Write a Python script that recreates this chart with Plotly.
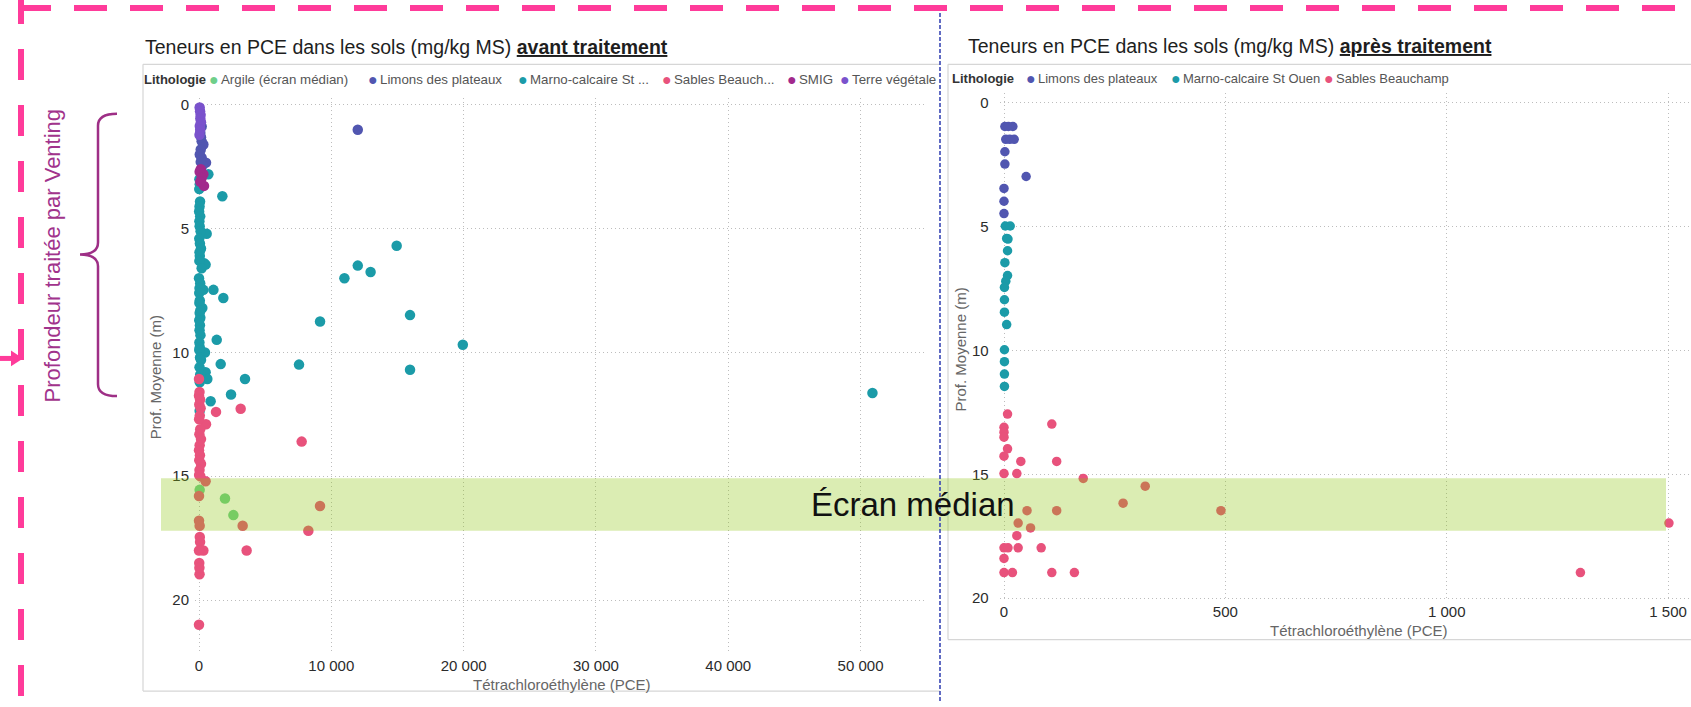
import plotly.graph_objects as go

W, H = 1691, 707

# ---------- Teneurs en PCE (mg/kg MS) avant traitement ----------
avant_argile_pce = [50, 1965, 2600]
avant_argile_prof = [15.55, 15.9, 16.57]

avant_limons_pce = [12000, 200, 100, 200, 330, 130, 200, 530, 130, 280, 150, 60]
avant_limons_prof = [1.0, 0.87, 1.13, 1.47, 1.6, 1.8, 2.13, 2.33, 2.3, 2.44, 1.3, 2.0]

avant_marno_pce = [706, 1764, 580, 14940, 12000, 12970, 10990, 400, 500, 0,
                   330, 1090, 1840, 250, 15950, 9150, 100, 1340, 19940, 450,
                   7560, 1640, 15950, 500, 630, 3477, 2420, 50900, 880, 50,
                   30, 60, 20, 80, 40, 10, 90, 30, 50, 120,
                   20, 70, 150, 40, 60, 30, 200, 90, 40, 20,
                   60, 30, 100, 50, 20, 70, 40, 110, 30, 60,
                   20, 80, 150, 40, 90, 60]
avant_marno_prof = [2.8, 3.69, 5.2, 5.69, 6.49, 6.75, 7.0, 6.4, 6.45, 7.0,
                    7.47, 7.47, 7.8, 8.2, 8.49, 8.75, 8.6, 9.49, 9.69, 10.0,
                    10.49, 10.47, 10.7, 10.8, 11.07, 11.07, 11.7, 11.64, 11.97, 12.35,
                    3.0, 3.2, 3.4, 3.9, 4.1, 4.3, 4.5, 4.7, 4.9, 5.1,
                    5.4, 5.6, 5.8, 5.95, 6.1, 6.3, 6.6, 7.2, 7.4, 7.6,
                    7.9, 8.0, 8.3, 8.4, 8.7, 8.9, 9.1, 9.3, 9.6, 9.8,
                    9.9, 10.2, 10.3, 10.6, 10.9, 11.2]

avant_sables_pce = [0, 1285, 3150, 530, 7760, 500, 0, 9145, 3300, 8265,
                    0, 50, 60, 80, 330, 3600, 0, 20, 40, 0,
                    30, 100,
                    40, 0, 80, 20, 120, 60, 10, 90, 30, 150,
                    50, 0, 70, 20, 150, 40, 10]
avant_sables_prof = [11.07, 12.4, 12.27, 12.9, 13.6, 15.2, 15.8, 16.2, 17.0, 17.2,
                     16.8, 17.0, 17.45, 17.66, 18.0, 18.0, 18.0, 18.5, 18.96, 21.0,
                     18.7, 15.0,
                     11.6, 11.75, 11.9, 12.1, 12.25, 12.55, 12.7, 13.1, 13.3, 13.5,
                     13.75, 13.95, 14.15, 14.35, 14.5, 14.75, 14.95]

avant_smig_pce = [130, 330, 380, 50, 200, 100]
avant_smig_prof = [2.6, 2.8, 3.27, 2.7, 2.95, 3.1]

avant_terre_pce = [50, 80, 120, 100, 150, 60, 90, 40]
avant_terre_prof = [0.1, 0.25, 0.4, 0.55, 0.7, 0.85, 1.0, 1.2]

# ---------- Teneurs en PCE (mg/kg MS) après traitement ----------
apres_limons_pce = [2, 10, 20, 4, 13, 23, 2, 2, 50, 0, 0, 0]
apres_limons_prof = [0.95, 0.95, 0.95, 1.47, 1.47, 1.47, 1.97, 2.47, 2.97, 3.45, 3.97, 4.47]

apres_marno_pce = [3, 14, 6, 9, 8, 2, 8, 4, 1, 1, 1, 6, 1, 1, 1, 1]
apres_marno_prof = [4.97, 4.97, 5.47, 5.5, 5.97, 6.45, 6.97, 7.2, 7.45, 7.95,
                    8.45, 8.95, 9.97, 10.45, 10.95, 11.45]

apres_sables_pce = [8, 108, 0, 0, 0, 8, 0, 38, 119, 0,
                    29, 179, 319, 269, 490, 52, 119, 32, 1502, 60,
                    29, 0, 9, 32, 84, 0, 0, 19, 108, 159,
                    1302]
apres_sables_prof = [12.57, 12.97, 13.1, 13.3, 13.5, 13.97, 14.27, 14.48, 14.48, 14.97,
                     14.97, 15.17, 15.48, 16.17, 16.47, 16.47, 16.47, 16.97, 16.97, 17.17,
                     17.48, 17.97, 17.97, 17.97, 17.97, 18.4, 18.97, 18.97, 18.97, 18.97,
                     18.97]

# Axis ticks
avant_xticks = [0, 10000, 20000, 30000, 40000, 50000]
avant_xtext = ["0", "10 000", "20 000", "30 000", "40 000", "50 000"]
apres_xticks = [0, 500, 1000, 1500]
apres_xtext = ["0", "500", "1 000", "1 500"]
prof_ticks = [0, 5, 10, 15, 20]
prof_text = ["0", "5", "10", "15", "20"]

# Lithology colours
C_ARGILE = "#6FCF8A"
C_LIMONS = "#5156B0"
C_MARNO = "#1B9BA8"
C_SABLES = "#E8527C"
C_SMIG = "#A2298C"
C_TERRE = "#7A52CC"

PINK = "#FF3B9A"
PURPLE = "#A1338C"
NARROW = "Liberation Sans Narrow, Arial Narrow, Liberation Sans, Arial, sans-serif"
ARIAL = "Liberation Sans, Arial, sans-serif"

# Pixel scales of the two panels (px per unit)
AV_KX, AV_KY = 727.7 / 55000, 25.0
AP_KX, AP_KY = 687.0 / 1551.8, 25.0


def px(x):
    return x / W


def py(y):
    return 1 - y / H


fig = go.Figure()


def add_points(xs, ys, color, name, xa, ya, size):
    fig.add_trace(go.Scatter(
        x=xs, y=ys, mode="markers", name=name, xaxis=xa, yaxis=ya,
        cliponaxis=False, showlegend=False,
        marker=dict(color=color, size=size, line=dict(width=0)),
    ))


add_points(avant_argile_pce, avant_argile_prof, C_ARGILE, "Argile (écran médian)", "x", "y", 10.5)
add_points(avant_limons_pce, avant_limons_prof, C_LIMONS, "Limons des plateaux", "x", "y", 10.5)
add_points(avant_marno_pce, avant_marno_prof, C_MARNO, "Marno-calcaire St Ouen", "x", "y", 10.5)
add_points(avant_sables_pce, avant_sables_prof, C_SABLES, "Sables Beauchamp", "x", "y", 10.5)
add_points(avant_smig_pce, avant_smig_prof, C_SMIG, "SMIG", "x", "y", 10.5)
add_points(avant_terre_pce, avant_terre_prof, C_TERRE, "Terre végétale", "x", "y", 10.5)

add_points(apres_limons_pce, apres_limons_prof, C_LIMONS, "Limons des plateaux", "x2", "y2", 9.5)
add_points(apres_marno_pce, apres_marno_prof, C_MARNO, "Marno-calcaire St Ouen", "x2", "y2", 9.5)
add_points(apres_sables_pce, apres_sables_prof, C_SABLES, "Sables Beauchamp", "x2", "y2", 9.5)

grid = dict(showgrid=True, gridcolor="#BDBDBD", griddash="1px,3px", gridwidth=1.3,
            zeroline=False, showline=False, ticks="",
            tickfont=dict(family=NARROW, size=15, color="#2B2B2B"))

# Axis ranges padded slightly beyond zero so the zero gridlines and labels are kept
av_x0, ap_x0 = -300, -10
av_y0, ap_y0 = -0.3, -0.4

fig.update_layout(
    width=W, height=H, margin=dict(l=0, r=0, t=0, b=0),
    paper_bgcolor="white", plot_bgcolor="rgba(0,0,0,0)", showlegend=False,
    xaxis=dict(domain=[px(199 + av_x0 * AV_KX), px(926.7)], range=[av_x0, 55000], anchor="y",
               tickvals=avant_xticks, ticktext=avant_xtext, ticklabelstandoff=1, **grid),
    yaxis=dict(domain=[py(660), py(105 + av_y0 * AV_KY)], range=[22.2, av_y0], anchor="x",
               tickvals=prof_ticks, ticktext=prof_text, ticklabelstandoff=5, **grid),
    xaxis2=dict(domain=[px(1004 + ap_x0 * AP_KX), 1], range=[ap_x0, 1551.8], anchor="y2",
                tickvals=apres_xticks, ticktext=apres_xtext, ticklabelstandoff=1, **grid),
    yaxis2=dict(domain=[py(605), py(103 + ap_y0 * AP_KY)], range=[20.08, ap_y0], anchor="x2",
                tickvals=prof_ticks, ticktext=prof_text, ticklabelstandoff=10, **grid),
)

shapes = []


def seg(x0, y0, x1, y1, color, width, dash=None, layer="above"):
    line = dict(color=color, width=width)
    if dash:
        line["dash"] = dash
    shapes.append(dict(type="line", xref="paper", yref="paper",
                       x0=px(x0), y0=py(y0), x1=px(x1), y1=py(y1),
                       line=line, layer=layer))


def path(cmds, color, width=0, fill=None, layer="above"):
    parts = []
    for c in cmds:
        op = c[0]
        nums = c[1:]
        pts = []
        for i in range(0, len(nums), 2):
            pts.append(f"{px(nums[i]):.6f},{py(nums[i + 1]):.6f}")
        parts.append(op + " " + " ".join(pts))
    d = " ".join(parts)
    if fill:
        d += " Z"
    shp = dict(type="path", xref="paper", yref="paper", path=d, layer=layer,
               line=dict(color=color, width=width))
    if fill:
        shp["fillcolor"] = fill
    shapes.append(shp)


# Visual panel borders
seg(143, 64, 940, 64, "#D6D6D6", 1.2, layer="below")
seg(143, 64, 143, 697, "#D6D6D6", 1.2, layer="below")
seg(143, 697, 940, 697, "#D6D6D6", 1.2, layer="below")
seg(948, 64, 1691, 64, "#D6D6D6", 1.2, layer="below")
seg(948, 64, 948, 645, "#D6D6D6", 1.2, layer="below")
seg(948, 645, 1691, 645, "#D6D6D6", 1.2, layer="below")

# Clay screen band
shapes.append(dict(type="rect", xref="paper", yref="paper",
                   x0=px(161), x1=px(1666), y0=py(535), y1=py(482),
                   fillcolor="rgba(140,196,10,0.31)", line=dict(width=0), layer="above"))

# Separator between the two views
seg(940, 12, 940, 707, "#3A48B5", 1.6, dash="4px,2px")

# Pink dashed frame
seg(18, 7, 1700, 7, PINK, 6, dash="33px,23px")
seg(21, -8, 21, 720, PINK, 6, dash="31px,25px")
seg(0, 361, 14, 361, PINK, 5)
path([("M", 11, 353), ("L", 23, 361), ("L", 11, 369)], PINK, 0, fill=PINK)

# Brace marking the venting depth
path([("M", 117, 114), ("Q", 98, 114, 98, 126), ("L", 98, 244),
      ("Q", 98, 256, 80, 256), ("Q", 98, 256, 98, 268), ("L", 98, 387),
      ("Q", 98, 399, 117, 399)], "#9E2F86", 2.5)

fig.update_layout(shapes=shapes)

annotations = []


def ann(text, x, y, size, color, family=NARROW, xanchor="center", angle=0):
    annotations.append(dict(text=text, x=px(x), y=py(y), xref="paper", yref="paper",
                            showarrow=False, xanchor=xanchor, yanchor="middle",
                            textangle=angle, font=dict(family=family, size=size, color=color)))


# Titles
ann("Teneurs en PCE dans les sols (mg/kg MS) <b><u>avant traitement</u></b>",
    143, 46, 19.5, "#1E1E1E", xanchor="left")
ann("Teneurs en PCE dans les sols (mg/kg MS) <b><u>après traitement</u></b>",
    966, 45, 19.5, "#1E1E1E", xanchor="left")

# Legends
ann("<b>Lithologie</b>", 142, 79, 13, "#333333", xanchor="left")
left_legend = [(214, C_ARGILE, "Argile (écran médian)"),
               (373, C_LIMONS, "Limons des plateaux"),
               (522.5, C_MARNO, "Marno-calcaire St ..."),
               (667, C_SABLES, "Sables Beauch..."),
               (792, C_SMIG, "SMIG"),
               (845, C_TERRE, "Terre végétale")]
for mx, col, lab in left_legend:
    ann("●", mx, 79, 16, col, family=ARIAL)
    ann(lab, mx + 5, 79, 13.3, "#555555", xanchor="left")

ann("<b>Lithologie</b>", 950, 78, 13, "#333333", xanchor="left")
right_legend = [(1031, C_LIMONS, "Limons des plateaux"),
                (1176, C_MARNO, "Marno-calcaire St Ouen"),
                (1329, C_SABLES, "Sables Beauchamp")]
for mx, col, lab in right_legend:
    ann("●", mx, 78, 16, col, family=ARIAL)
    ann(lab, mx + 5, 78, 13, "#555555", xanchor="left")

# Axis titles
ann("Prof. Moyenne (m)", 155, 380, 15, "#666666", angle=-90)
ann("Tétrachloroéthylène (PCE)", 562, 690, 15, "#666666")
ann("Prof. Moyenne (m)", 961, 352, 15, "#666666", angle=-90)
ann("Tétrachloroéthylène (PCE)", 1359, 636, 15, "#666666")

# Side notes
ann("Profondeur traitée par Venting", 52, 257, 22, PURPLE, family=ARIAL, angle=-90)
ann("Écran médian", 913, 509, 33, "#111111", family=ARIAL)

fig.update_layout(annotations=annotations)

fig.write_html("out.html")
